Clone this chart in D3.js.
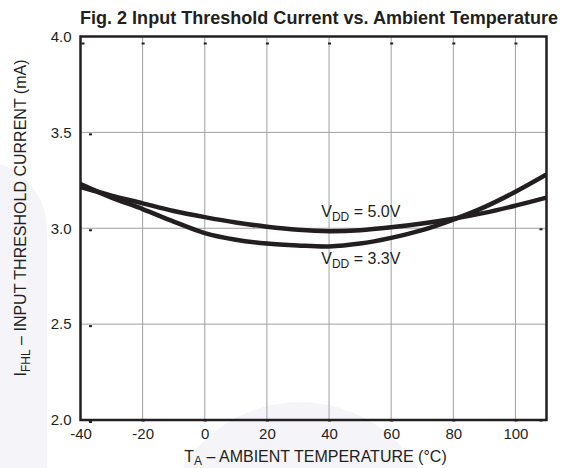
<!DOCTYPE html>
<html>
<head>
<meta charset="utf-8">
<script src="https://cdn.jsdelivr.net/npm/d3@7"></script>
<style>
  html, body { margin: 0; padding: 0; background: #fff; }
  svg { display: block; }
  text { font-family: "Liberation Sans", Arial, sans-serif; fill: #231f20; }
</style>
</head>
<body>
<svg id="chart" width="563" height="468"></svg>
<script>
// ---- Data ----
const temps = [-40, -30, -20, -10, 0, 10, 20, 30, 40, 50, 60, 70, 80, 90, 100, 110];
const vdd50 = [3.215, 3.17, 3.13, 3.09, 3.058, 3.03, 3.008, 2.992, 2.985, 2.99, 3.005, 3.025, 3.05, 3.08, 3.118, 3.16];
const vdd33 = [3.23, 3.16, 3.10, 3.035, 2.975, 2.94, 2.92, 2.91, 2.905, 2.92, 2.95, 2.99, 3.045, 3.11, 3.19, 3.28];
const xTicks = [-40, -20, 0, 20, 40, 60, 80, 100];
const yTicks = [2.0, 2.5, 3.0, 3.5, 4.0];
const titleText = "Fig. 2 Input Threshold Current vs. Ambient Temperature";

const svg = d3.select("#chart");
const m = { left: 80.5, right: 546.5, top: 36.5, bottom: 420 };

const x = d3.scaleLinear().domain([-40, 110]).range([m.left, m.right]);
const y = d3.scaleLinear().domain([2, 4]).range([m.bottom, m.top]);

// faint watermark shapes
const wm = "#f5f4f8";
svg.append("rect").attr("x", -120).attr("y", 160).attr("width", 167).attr("height", 400)
  .attr("rx", 70).attr("ry", 70).attr("fill", wm);
svg.append("circle").attr("cx", 300).attr("cy", 540).attr("r", 138).attr("fill", wm);

// gridlines
const grid = svg.append("g");
grid.selectAll("line.vx").data(xTicks.filter(d => d > -40)).join("line")
  .attr("x1", d => x(d)).attr("x2", d => x(d))
  .attr("y1", m.top).attr("y2", m.bottom)
  .attr("stroke", "#a0a0a0").attr("stroke-width", 1);
grid.selectAll("line.hy").data(yTicks.filter(d => d > 2 && d < 4)).join("line")
  .attr("x1", m.left).attr("x2", m.right)
  .attr("y1", d => y(d)).attr("y2", d => y(d))
  .attr("stroke", "#a0a0a0").attr("stroke-width", 1);

// small tick marks inside frame
const marks = svg.append("g").attr("fill", "#231f20");
marks.selectAll("rect.top").data(xTicks).join("rect")
  .attr("x", d => x(d) - 1 + (d === -40 ? 2 : 0)).attr("y", m.top + 6).attr("width", 3).attr("height", 2);
marks.selectAll("rect.bot").data(xTicks).join("rect")
  .attr("x", d => (d === -40 ? x(d) + 9 : x(d)) - 1).attr("y", m.bottom - 1).attr("width", 3).attr("height", 2.5);
marks.append("rect").attr("x", m.right - 7).attr("y", m.bottom - 1).attr("width", 3).attr("height", 2.5);
marks.selectAll("rect.left").data(yTicks.filter(d => d < 4)).join("rect")
  .attr("x", m.left + 8.5).attr("y", d => y(d) + 1).attr("width", 3).attr("height", 2);
marks.append("rect").attr("x", m.right - 7).attr("y", y(3.0)).attr("width", 3).attr("height", 2);

// curves
const line = d3.line().x((d, i) => x(temps[i])).y(d => y(d)).curve(d3.curveCatmullRom.alpha(0.5));
svg.append("clipPath").attr("id", "clip").append("rect")
  .attr("x", m.left).attr("y", m.top).attr("width", m.right - m.left).attr("height", m.bottom - m.top);
const curves = svg.append("g").attr("clip-path", "url(#clip)");
[vdd50, vdd33].forEach(s => {
  curves.append("path").datum(s).attr("d", line)
    .attr("fill", "none").attr("stroke", "#231f20").attr("stroke-width", 4.5)
    .attr("stroke-linecap", "round");
});

// frame
svg.append("rect").attr("x", m.left).attr("y", m.top)
  .attr("width", m.right - m.left).attr("height", m.bottom - m.top)
  .attr("fill", "none").attr("stroke", "#231f20").attr("stroke-width", 2.5);

// axis tick labels via d3 axes (lines hidden)
const hyphenFmt = d => String(d);
const xAxis = d3.axisBottom(x).tickValues(xTicks).tickFormat(hyphenFmt).tickSize(0).tickPadding(8);
const gx = svg.append("g").attr("transform", `translate(0,${m.bottom})`).call(xAxis);
gx.select(".domain").remove();
gx.selectAll("text").style("font-size", "15px").style("font-family", "Liberation Sans, Arial, sans-serif").attr("fill", "#231f20");

const yAxis = d3.axisLeft(y).tickValues(yTicks).tickFormat(d => d.toFixed(1)).tickSize(0).tickPadding(9);
const gy = svg.append("g").attr("transform", `translate(${m.left},0)`).call(yAxis);
gy.select(".domain").remove();
gy.selectAll("text").style("font-size", "15px").style("font-family", "Liberation Sans, Arial, sans-serif").attr("fill", "#231f20");

// title
svg.append("text").attr("x", 80).attr("y", 24)
  .style("font-size", "18px").style("font-weight", "bold")
  .attr("textLength", 478).attr("lengthAdjust", "spacingAndGlyphs")
  .text(titleText);

// x axis title
const xt = svg.append("text").attr("x", (m.left + m.right) / 2 + 2).attr("y", 462)
  .attr("text-anchor", "middle").style("font-size", "16px");
xt.append("tspan").text("T");
xt.append("tspan").attr("dy", 3).style("font-size", "12px").text("A");
xt.append("tspan").attr("dy", -3).text(" – AMBIENT TEMPERATURE (°C)");

// y axis title
const yt = svg.append("text").attr("transform", `translate(26,${218}) rotate(-90)`)
  .attr("text-anchor", "middle").style("font-size", "16px");
yt.append("tspan").text("I");
yt.append("tspan").attr("dy", 4).style("font-size", "12px").text("FHL");
yt.append("tspan").attr("dy", -4).text(" – INPUT THRESHOLD CURRENT (mA)");

// curve labels
function vlabel(xv, yv, txt) {
  const t = svg.append("text").attr("x", x(xv)).attr("y", y(yv)).style("font-size", "16px");
  t.append("tspan").text("V");
  t.append("tspan").attr("dy", 4).style("font-size", "12px").text("DD");
  t.append("tspan").attr("dy", -4).text(" = " + txt);
}
vlabel(37.5, 3.06, "5.0V");
vlabel(37.5, 2.815, "3.3V");
</script>
</body>
</html>
